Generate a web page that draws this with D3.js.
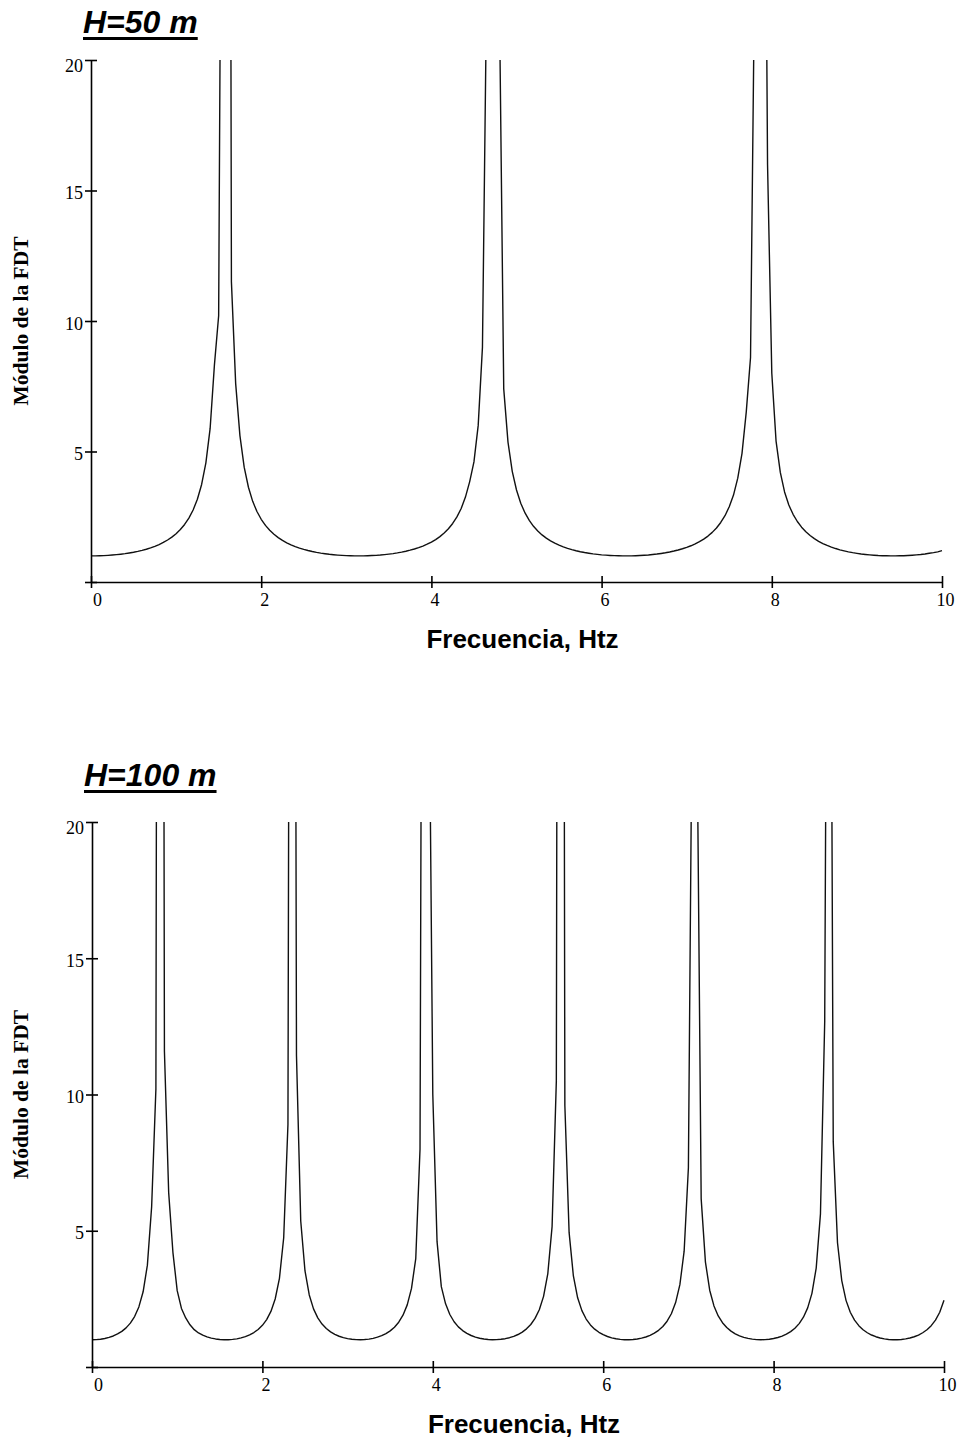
<!DOCTYPE html>
<html>
<head>
<meta charset="utf-8">
<script src="https://cdn.jsdelivr.net/npm/d3@7"></script>
<style>
  html, body { margin: 0; padding: 0; background: #fff; }
  svg { display: block; background: #fff; }
  .axis path, .axis line { stroke: #000; stroke-width: 1.6; }
  .axis text { font-family: 'Liberation Serif', 'Times New Roman', serif; font-size: 18px; fill: #000; }
  .curve { fill: none; stroke: #111; stroke-width: 1.4; stroke-linejoin: round; }
  .panel-title { font-family: 'Liberation Sans', Arial, sans-serif; font-weight: bold; font-style: italic; font-size: 32px; }
  .x-title { font-family: 'Liberation Sans', Arial, sans-serif; font-weight: bold; font-size: 26px; }
  .y-title { font-family: 'Liberation Serif', 'Times New Roman', serif; font-weight: bold; font-size: 21.5px; }
</style>
</head>
<body>
<svg id="chart" width="960" height="1441"></svg>
<script>
// Transfer function modulus, one sample every FREQ_STEP Hz (0..10 Hz).
// Peaks go off the top of the frame, so those samples are only rough "big" values.
const FREQ_STEP = 0.05;

const H50_MODULUS = [
  1.00, 1.001, 1.005, 1.011, 1.02, 1.032, 1.047, 1.065, 1.086, 1.111, 1.139, 1.173, 1.212, 1.256, 1.307, 1.367, 1.435, 1.515, 1.609, 1.719,
  1.851, 2.01, 2.205, 2.448, 2.76, 3.171, 3.738, 4.566, 5.883, 8.3, 10.2, 41, 90, 11.5, 7.6, 5.61, 4.4, 3.63, 3.09, 2.7,
  2.403, 2.169, 1.981, 1.827, 1.699, 1.592, 1.501, 1.423, 1.356, 1.298, 1.248, 1.205, 1.167, 1.134, 1.106, 1.082, 1.061, 1.044, 1.03, 1.019,
  1.01, 1.004, 1.001, 1.0, 1.002, 1.006, 1.013, 1.022, 1.034, 1.05, 1.068, 1.089, 1.115, 1.145, 1.179, 1.219, 1.264, 1.316, 1.378, 1.448,
  1.53, 1.626, 1.74, 1.875, 2.04, 2.242, 2.495, 2.818, 3.254, 3.846, 4.6, 6.0, 9.0, 23, 80, 60, 22, 7.4, 5.36, 4.24,
  3.525, 3.02, 2.645, 2.36, 2.134, 1.953, 1.804, 1.679, 1.576, 1.487, 1.411, 1.345, 1.289, 1.24, 1.198, 1.161, 1.129, 1.102, 1.078, 1.058,
  1.041, 1.028, 1.017, 1.009, 1.004, 1.001, 1.0, 1.002, 1.007, 1.014, 1.024, 1.036, 1.052, 1.071, 1.094, 1.12, 1.15, 1.186, 1.226, 1.273,
  1.326, 1.388, 1.461, 1.544, 1.644, 1.76, 1.901, 2.069, 2.28, 2.541, 2.885, 3.33, 3.979, 4.93, 6.52, 8.6, 24, 90, 40, 16,
  8.0, 5.4, 4.2, 3.45, 2.948, 2.593, 2.318, 2.101, 1.926, 1.783, 1.661, 1.56, 1.473, 1.4, 1.336, 1.282, 1.233, 1.193, 1.156, 1.124,
  1.098, 1.074, 1.055, 1.039, 1.026, 1.015, 1.008, 1.003, 1.0, 1.0, 1.003, 1.008, 1.016, 1.026, 1.039, 1.055, 1.075, 1.099, 1.125, 1.156,
  1.2
];

const H100_MODULUS = [
  1.00, 1.005, 1.02, 1.047, 1.086, 1.139, 1.212, 1.307, 1.435, 1.609, 1.851, 2.205, 2.76, 3.738, 5.883, 10.2, 100, 11.6, 6.4, 4.2,
  2.8, 2.15, 1.8, 1.55, 1.37, 1.248, 1.167, 1.106, 1.061, 1.03, 1.01, 1.001, 1.002, 1.013, 1.034, 1.068, 1.115, 1.179, 1.264, 1.378,
  1.53, 1.74, 2.04, 2.495, 3.254, 4.744, 8.91, 80, 11.43, 5.36, 3.525, 2.645, 2.134, 1.804, 1.576, 1.411, 1.289, 1.198, 1.129, 1.078,
  1.041, 1.017, 1.004, 1.0, 1.007, 1.024, 1.052, 1.094, 1.15, 1.226, 1.326, 1.461, 1.644, 1.901, 2.28, 2.885, 3.979, 8.0, 60, 28,
  10, 4.6, 2.948, 2.318, 1.926, 1.661, 1.473, 1.336, 1.233, 1.156, 1.098, 1.055, 1.026, 1.008, 1.0, 1.003, 1.016, 1.039, 1.075, 1.125,
  1.192, 1.281, 1.4, 1.56, 1.783, 2.103, 2.593, 3.43, 5.15, 10.5, 100, 9.6, 4.93, 3.34, 2.54, 2.069, 1.76, 1.544, 1.388, 1.273,
  1.185, 1.12, 1.071, 1.036, 1.014, 1.002, 1.001, 1.009, 1.028, 1.058, 1.102, 1.161, 1.241, 1.346, 1.488, 1.681, 1.955, 2.363, 3.02, 4.25,
  7.31, 26.9, 24, 6.17, 3.85, 2.818, 2.241, 1.875, 1.626, 1.448, 1.316, 1.218, 1.145, 1.089, 1.05, 1.022, 1.006, 1.0, 1.004, 1.019,
  1.044, 1.082, 1.135, 1.205, 1.299, 1.424, 1.592, 1.827, 2.17, 2.703, 3.63, 5.62, 12.7, 47, 8.27, 4.56, 3.17, 2.445, 2.008, 1.719,
  1.516, 1.367, 1.257, 1.174, 1.111, 1.065, 1.032, 1.011, 1.001, 1.001, 1.011, 1.032, 1.065, 1.111, 1.173, 1.257, 1.367, 1.516, 1.72, 2.01,
  2.45
];

const X_TICKS = [0, 2, 4, 6, 8, 10];
const Y_TICKS = [0, 5, 10, 15, 20];
const Y_TICK_LABELS = ['', '5', '10', '15', '20'];
const PANEL_TITLES = ['H=50 m', 'H=100 m'];
const X_TITLE = 'Frecuencia, Htz';
const Y_TITLE = 'Módulo de la FDT';

// frame of each panel in page pixels
const panels = [
  { title: PANEL_TITLES[0], values: H50_MODULUS, left: 91, right: 942, top: 60, bottom: 582, titleY: 33 },
  { title: PANEL_TITLES[1], values: H100_MODULUS, left: 92, right: 944, top: 822, bottom: 1367, titleY: 786 },
];

const svg = d3.select('#chart');
panels.forEach(drawPanel);

function drawPanel(p, i) {
  const x = d3.scaleLinear().domain([0, 10]).range([p.left, p.right]);
  const y = d3.scaleLinear().domain([0, 20]).range([p.bottom, p.top]);
  const g = svg.append('g').attr('class', 'panel');

  // peaks are cut at the top of the frame
  const clipId = 'clip-' + i;
  g.append('clipPath').attr('id', clipId).append('rect')
    .attr('x', p.left - 2).attr('y', p.top)
    .attr('width', p.right - p.left + 4).attr('height', p.bottom - p.top);

  const line = d3.line()
    .x((d, j) => x(j * FREQ_STEP))
    .y(d => y(d));

  g.append('path')
    .datum(p.values)
    .attr('class', 'curve')
    .attr('clip-path', `url(#${clipId})`)
    .attr('d', line);

  // x axis, ticks crossing the line
  const xAxis = g.append('g').attr('class', 'axis')
    .attr('transform', `translate(0,${p.bottom})`)
    .call(d3.axisBottom(x).tickValues(X_TICKS).tickSizeOuter(0).tickSizeInner(6).tickFormat(d3.format('d')));
  xAxis.selectAll('.tick line').attr('y1', -6).attr('y2', 6);
  xAxis.selectAll('.tick text')
    .attr('y', 24).attr('dy', null)
    .attr('dx', d => d === 0 ? 6 : 3);

  // y axis
  const yAxis = g.append('g').attr('class', 'axis')
    .attr('transform', `translate(${p.left},0)`)
    .call(d3.axisLeft(y).tickValues(Y_TICKS).tickSizeOuter(0).tickSizeInner(6)
      .tickFormat((d, k) => Y_TICK_LABELS[k]));
  yAxis.selectAll('.tick line').attr('x1', -6).attr('x2', 6);
  yAxis.selectAll('.tick text')
    .attr('x', -8).attr('dy', null)
    .attr('y', d => d === 20 ? 11 : 8);

  // panel title, underlined
  const t = g.append('text')
    .attr('class', 'panel-title')
    .attr('x', p.left - 8)
    .attr('y', p.titleY)
    .text(p.title);
  const bb = t.node().getBBox();
  g.append('rect')
    .attr('x', bb.x)
    .attr('y', p.titleY + 4)
    .attr('width', bb.width)
    .attr('height', 3)
    .attr('fill', '#000');

  g.append('text')
    .attr('class', 'x-title')
    .attr('text-anchor', 'middle')
    .attr('x', (p.left + p.right) / 2 + 6)
    .attr('y', p.bottom + 66)
    .text(X_TITLE);

  g.append('text')
    .attr('class', 'y-title')
    .attr('text-anchor', 'middle')
    .attr('transform', `translate(28,${(p.top + p.bottom) / 2}) rotate(-90)`)
    .text(Y_TITLE);
}
</script>
</body>
</html>
